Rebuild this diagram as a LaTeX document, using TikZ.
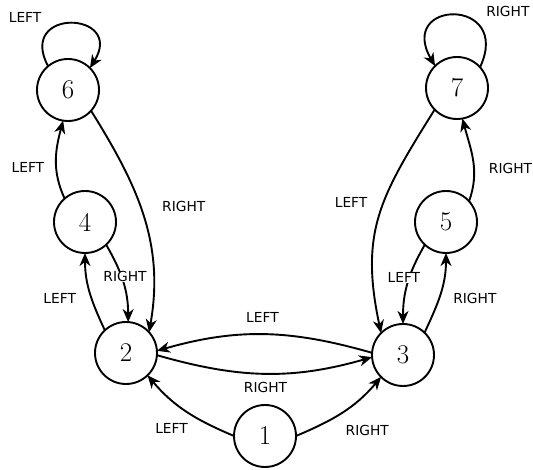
\documentclass[tikz,border=0pt]{standalone}
\usepackage{fontspec}
\usepackage{tkz-graph}
\usetikzlibrary{arrows.meta}
\newfontfamily\lblfont{DejaVu Sans}

\begin{document}
\begin{tikzpicture}[x = 1pt, y = 1pt]
\tikzstyle{VertexStyle}=[shape = circle,
                         minimum size = 62pt,
                         inner sep = 0pt,
                         line width = 1.9pt,
                         font = \fontsize{27}{27}\selectfont,
                         draw]
\tikzstyle{EdgeStyle}=[-{Stealth[length = 13pt, width = 11pt, inset = 4pt]},
                       line width = 1.9pt]
\tikzstyle{LabelStyle}=[font = \lblfont\fontsize{13.8}{14}\selectfont,
                        inner sep = 0pt]
\useasboundingbox (0,0) rectangle (533,470);
\Vertex[x = 265, y = 34, L = 1]{v1}
\Vertex[x = 126, y = 117, L = 2]{v2}
\Vertex[x = 403, y = 115, L = 3]{v3}
\Vertex[x = 85, y = 248, L = 4]{v4}
\Vertex[x = 446, y = 248, L = 5]{v5}
\Vertex[x = 68, y = 380, L = 6]{v6}
\Vertex[x = 457, y = 382, L = 7]{v7}
\Edge[label = LEFT, style = {out = 157, in = -50}, labelstyle = {pos = .4, anchor = north east, xshift = -6pt, yshift = -6pt}](v1.180)(v2.-46)
\Edge[label = RIGHT, style = {out = 23, in = -130}, labelstyle = {pos = .5, anchor = north west, xshift = 2pt, yshift = -12pt}](v1.0)(v3.-135)
\Edge[label = LEFT, style = {out = 164, in = 16}, labelstyle = {pos = .5, anchor = south, xshift = -2pt, yshift = 11pt}](v3.176)(v2.4)
\Edge[label = RIGHT, style = {out = -16, in = -164}, labelstyle = {pos = .5, anchor = north, xshift = 1pt, yshift = -8pt}](v2.-4)(v3.-176)
\Edge[label = LEFT, style = {out = 115, in = -90}, labelstyle = {pos = .5, anchor = east, xshift = -13pt, yshift = -6pt}](v2.133)(v4.-90)
\Edge[label = RIGHT, style = {out = -60, in = 90}, labelstyle = {pos = .5, anchor = center, xshift = 2pt, yshift = 5pt}](v4.-47)(v2.86)
\Edge[label = LEFT, style = {out = 115, in = -105}, labelstyle = {pos = .5, anchor = east, xshift = -11pt, yshift = -7pt}](v4.131)(v6.-99)
\Edge[label = RIGHT, style = {out = -58, in = 80}, labelstyle = {pos = .45, anchor = west, xshift = 21pt}](v6.-42)(v2.42)
\Edge[label = RIGHT, style = {out = 65, in = -90}, labelstyle = {pos = .5, anchor = west, xshift = 12pt, yshift = -5pt}](v3.46)(v5.-90)
\Edge[label = LEFT, style = {out = -120, in = 90}, labelstyle = {pos = .5, anchor = center, xshift = -4pt, yshift = 5pt}](v5.-133)(v3.90)
\Edge[label = RIGHT, style = {out = 70, in = -75}, labelstyle = {pos = .5, anchor = west, xshift = 15pt, yshift = -8pt}](v5.42)(v7.-80)
\Edge[label = LEFT, style = {out = -122, in = 102, looseness = 1.15}, labelstyle = {pos = .45, anchor = east, xshift = -14pt, yshift = 4pt}](v7.-136)(v3.135)
\Edge[label = LEFT, style = {out = 118, in = 58, looseness = 4.1}, labelstyle = {pos = .25, anchor = south east, xshift = -4pt, yshift = 10pt}](v6.130)(v6.45)
\Edge[label = RIGHT, style = {out = 65, in = 120, looseness = 4.4}, labelstyle = {pos = .25, anchor = south west, xshift = 4pt, yshift = 10pt}](v7.42)(v7.135)
\end{tikzpicture}
\end{document}
